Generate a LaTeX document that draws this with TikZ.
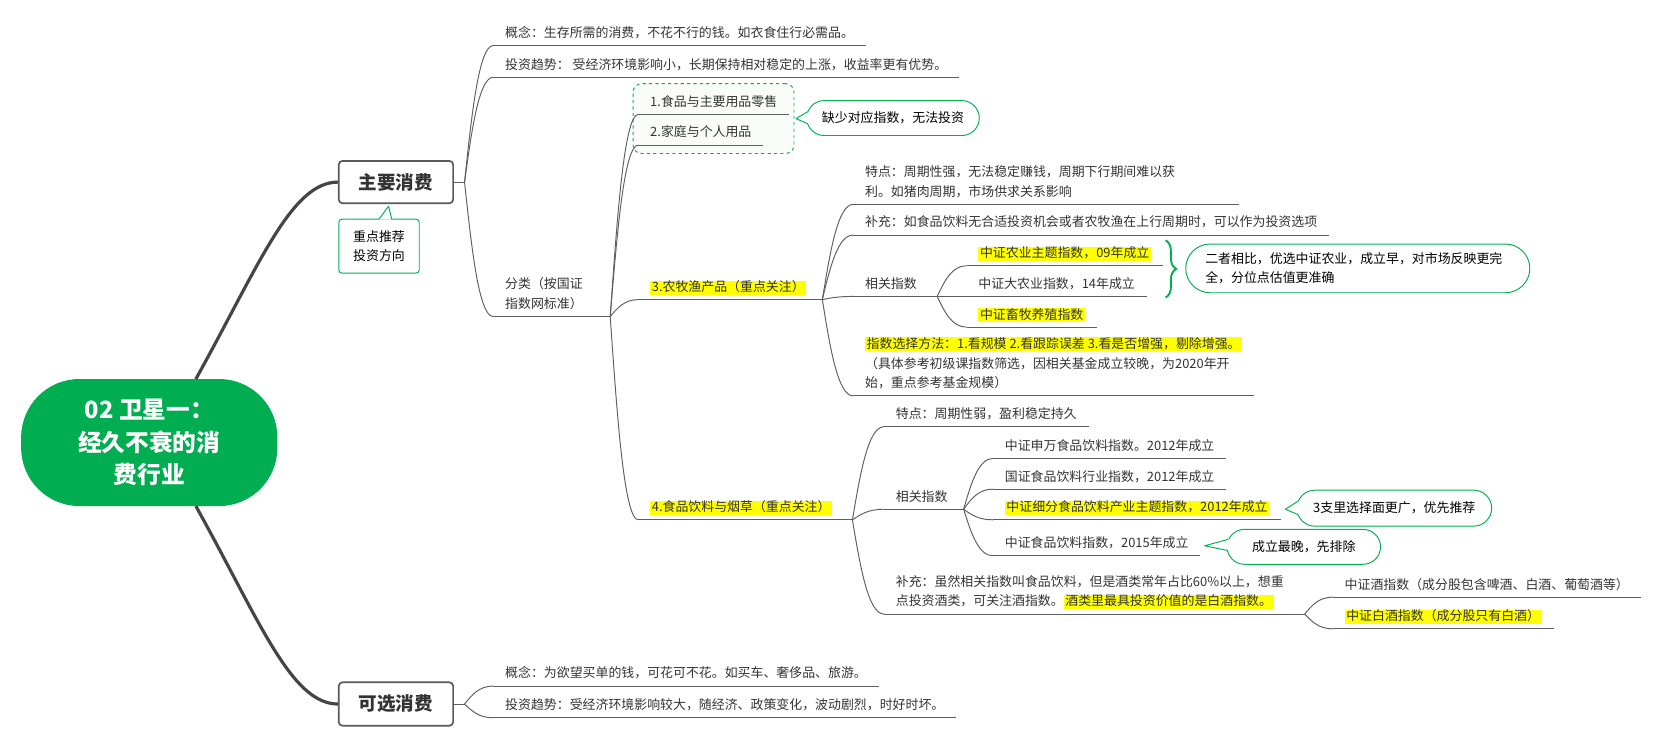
\documentclass[tikz,border=0pt]{standalone}
\usepackage{fontspec}
\setmainfont{Noto Sans CJK SC}
\usetikzlibrary{calc,decorations.pathreplacing}
\definecolor{hlyellow}{HTML}{FFFF00}
\definecolor{xgreen}{HTML}{00B050}
\definecolor{rootgreen}{HTML}{00AD50}
\definecolor{textgray}{HTML}{333333}
\definecolor{linegray}{HTML}{5E5E5E}
\definecolor{trunkgray}{HTML}{454545}
\definecolor{boxgray}{HTML}{595959}
\definecolor{groupfill}{HTML}{FAFCFA}
\newcommand\tfs{\fontsize{12.2pt}{18.8pt}\selectfont}
\newcommand\hlt[1]{{\setlength{\fboxsep}{0pt}\colorbox{hlyellow}{\kern1.5pt\rule[-3pt]{0pt}{13pt}#1\kern1.5pt}}}
\def\extlen{0pt}
\begin{document}
\begin{tikzpicture}[x=1pt,y=-1pt,
  ext/.code={\def\extlen{#1}},
  topic/.style={anchor=south west, inner xsep=11pt, inner ysep=4.4pt, font=\tfs,
    text=textgray, align=left, ext=0pt,
    execute at end node={\rule[-3pt]{0pt}{3pt}\rule{\extlen}{0pt}}},
  uline/.style={draw=linegray, line width=0.9pt},
  branch/.style={draw=linegray, line width=0.9pt,
    to path={let \p1=(\tikztostart), \p2=(\tikztotarget) in
      .. controls ({\x1+0.25*(\x2-\x1)},{\y1+0.5*(\y2-\y1)}) and ({\x2-0.5*(\x2-\x1)},\y2) .. (\tikztotarget)}},
  trunk/.style={draw=trunkgray, line width=3pt},
  rootnode/.style={rectangle, rounded corners=55pt, minimum width=242pt, minimum height=120pt,
    fill=rootgreen, text=white, align=center, inner sep=0pt,
    font=\fontsize{22.4pt}{30.5pt}\selectfont\bfseries},
  mainbox/.style={rectangle, rounded corners=3.5pt, minimum width=108pt, minimum height=40pt,
    draw=boxgray, line width=1.6pt, fill=white, text=textgray, inner sep=0pt,
    font=\fontsize{17.5pt}{20pt}\selectfont\bfseries},
  bubble/.style={rectangle, draw=xgreen, line width=0.9pt, fill=white, text=black,
    font=\tfs, inner sep=0pt},
  callline/.style={draw=xgreen, line width=0.9pt, line join=round},
]
\useasboundingbox (0,0) rectangle (1568,705);

% group box (dashed)
\node[rectangle, draw=xgreen, dashed, line width=0.9pt, rounded corners=8pt,
  minimum width=152pt, minimum height=66pt, fill=groupfill] (grp) at (674,112) {};

% root and main topics
\node[rootnode] (root) at (141,418) {02 卫星一：\\经久不衰的消\\费行业};
\node[mainbox] (major) at (374,172) {主要消费};
\node[mainbox, minimum height=41pt] (minor) at (374,665) {可选消费};
\coordinate (rt) at (185,358);
\coordinate (rb) at (185,478);
\coordinate (mjb) at ($(major.east)+(10,0)$);
\coordinate (mnb) at ($(minor.east)+(10,0)$);

% level 2
\node[topic] (t1) at (466,43) {概念：生存所需的消费，不花不行的钱。如衣食住行必需品。};
\node[topic] (t2) at (466,73) {投资趋势： 受经济环境影响小，长期保持相对稳定的上涨，收益率更有优势。};
\node[topic, text width=88pt] (t3) at (466,299) {分类（按国证\\指数网标准）};
\node[topic] (k1) at (466,648) {概念：为欲望买单的钱，可花可不花。如买车、奢侈品、旅游。};
\node[topic] (k2) at (466,678) {投资趋势：受经济环境影响较大，随经济、政策变化，波动剧烈，时好时坏。};

% level 3
\node[topic] (c1) at (603,108) {1.食品与主要用品零售};
\node[topic] (c2) at (603,137) {2.家庭与个人用品};
\node[topic, ext=4pt] (c3) at (603,283) {\hlt{3.农牧渔产品（重点关注）}};
\node[topic, ext=8pt] (c4) at (603,491) {\hlt{4.食品饮料与烟草（重点关注）}};

% level 4 (农牧渔)
\node[topic, text width=342pt] (n1) at (806,193) {特点：周期性强，无法稳定赚钱，周期下行期间难以获\\利。如猪肉周期，市场供求关系影响};
\node[topic] (n2) at (806,222) {补充：如食品饮料无合适投资机会或者农牧渔在上行周期时，可以作为投资选项};
\node[topic, ext=8pt] (n3) at (806,280) {相关指数};
\node[topic] (n4) at (806,374) {\hlt{指数选择方法：1.看规模 2.看跟踪误差 3.看是否增强，剔除增强。}\\（具体参考初级课指数筛选，因相关基金成立较晚，为2020年开\\始，重点参考基金规模）};
\node[topic] (a1) at (913,251) {\hlt{中证农业主题指数，09年成立}};
\node[topic] (a2) at (913,280) {中证大农业指数，14年成立};
\node[topic] (a3) at (913,309) {\hlt{中证畜牧养殖指数}};

% level 4 (食品饮料)
\node[topic] (f1) at (835,403) {特点：周期性弱，盈利稳定持久};
\node[topic, ext=4pt] (f2) at (835,481) {相关指数};
\node[topic, text width=375pt] (f3) at (835,580) {补充：虽然相关指数叫食品饮料，但是酒类常年占比60\%以上，想重\\点投资酒类，可关注酒指数。\hlt{酒类里最具投资价值的是白酒指数。}};
\node[topic] (g1) at (938,433) {中证申万食品饮料指数。2012年成立};
\node[topic] (g2) at (938,462) {国证食品饮料行业指数，2012年成立};
\node[topic] (g3) at (938,491) {\hlt{中证细分食品饮料产业主题指数，2012年成立}};
\node[topic] (g4) at (938,525) {中证食品饮料指数，2015年成立};
\node[topic] (h1) at (1259,564) {中证酒指数（成分股包含啤酒、白酒、葡萄酒等）};
\node[topic] (h2) at (1259,594) {\hlt{中证白酒指数（成分股只有白酒）}};

% underlines
\foreach \n in {t1,t2,t3,k1,k2,c1,c2,c3,c4,n1,n2,n3,n4,a1,a2,a3,f1,f2,f3,g1,g2,g3,g4,h1,h2}
  \draw[uline] (\n.south west) -- (\n.south east);

% trunk connectors
\draw[trunk] (rt) .. controls (245,250) and (275,172) .. (major.west);
\draw[trunk] (rb) .. controls (245,586) and (275,665) .. (minor.west);
\draw[uline] (major.east) -- (mjb);
\draw[uline] (minor.east) -- (mnb);

% branches
\foreach \c in {t1,t2,t3} \draw[branch] (mjb) to (\c.south west);
\foreach \c in {k1,k2} \draw[branch] (mnb) to (\c.south west);
\foreach \c in {c1,c2,c3,c4} \draw[branch] (t3.south east) to (\c.south west);
\foreach \c in {n1,n2,n3,n4} \draw[branch] (c3.south east) to (\c.south west);
\foreach \c in {a1,a2,a3} \draw[branch] (n3.south east) to (\c.south west);
\foreach \c in {f1,f2,f3} \draw[branch] (c4.south east) to (\c.south west);
\foreach \c in {g1,g2,g3,g4} \draw[branch] (f2.south east) to (\c.south west);
\foreach \c in {h1,h2} \draw[branch] (f3.south east) to (\c.south west);

% brace summary
\coordinate (bt) at (1101,227);
\coordinate (bb) at (1101,281);
\draw[draw=xgreen, line width=1.8pt, decorate, decoration={brace, amplitude=10pt}] (bt) -- (bb);
\node[bubble, rounded corners=23pt, minimum width=325pt, minimum height=46pt,
  text width=288pt, align=left, font=\fontsize{12.2pt}{17.5pt}\selectfont] (sum) at (1282.5,253.5)
  {二者相比，优选中证农业，成立早，对市场反映更完\\全，分位点估值更准确};

% callout A
\node[bubble, rounded corners=16.5pt, minimum width=163pt, minimum height=33pt] (ca) at (843.5,111.5) {缺少对应指数，无法投资};
\coordinate (catip) at ($(grp.east)+(1.5,0)$);
\fill[white] ($(ca.west)+(2.2,-6)$) -- (catip) -- ($(ca.west)+(2.2,5.5)$) -- cycle;
\draw[callline] ($(ca.west)+(1.4,-6)$) -- (catip) -- ($(ca.west)+(1.4,5.5)$);

% callout B
\node[bubble, rounded corners=17pt, minimum width=184pt, minimum height=34pt] (cb) at (1317,480) {3支里选择面更广，优先推荐};
\coordinate (cbtip) at ($(g3.south east)+(4,-10)$);
\fill[white] ($(cb.west)+(2.2,-6.5)$) -- (cbtip) -- ($(cb.west)+(2.2,6)$) -- cycle;
\draw[callline] ($(cb.west)+(1.4,-6.5)$) -- (cbtip) -- ($(cb.west)+(1.4,6)$);

% callout C
\node[bubble, rounded corners=16.5pt, minimum width=145pt, minimum height=33pt] (cc) at (1231.5,516.5) {成立最晚，先排除};
\coordinate (cctip) at ($(g4.south east)+(4,-9.5)$);
\fill[white] ($(cc.west)+(2.2,-7)$) -- (cctip) -- ($(cc.west)+(2.2,3.5)$) -- cycle;
\draw[callline] ($(cc.west)+(1.4,-7)$) -- (cctip) -- ($(cc.west)+(1.4,3.5)$);

% callout D
\node[bubble, rounded corners=3pt, minimum width=76pt, minimum height=51pt, align=center,
  font=\fontsize{12.2pt}{17.5pt}\selectfont] (cd) at (358,232.5) {重点推荐\\投资方向};
\coordinate (cdtip) at ($(major.south)+(-7,2)$);
\fill[white] ($(cd.north)+(0,1)$) -- (cdtip) -- ($(cd.north)+(12,1)$) -- cycle;
\draw[callline] ($(cd.north)+(0,0.4)$) -- (cdtip) -- ($(cd.north)+(12,0.4)$);
\end{tikzpicture}
\end{document}
